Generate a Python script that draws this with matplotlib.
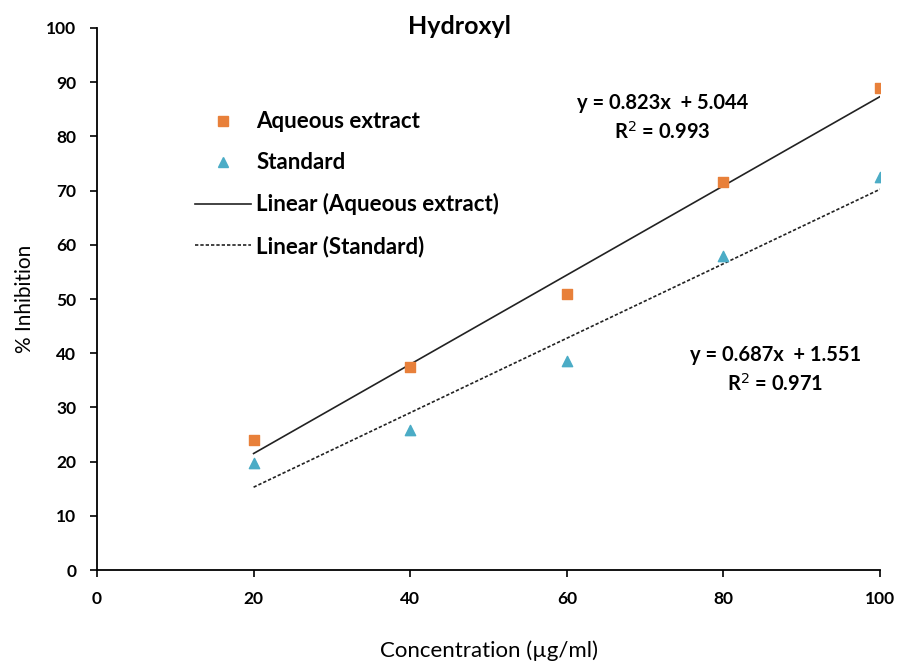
import matplotlib
matplotlib.use('Agg')
import matplotlib.pyplot as plt
from matplotlib.lines import Line2D

plt.rcParams['font.family'] = ['Lato', 'DejaVu Sans']

conc = [20, 40, 60, 80, 100]
aqueous = [24.0, 37.5, 51.0, 71.5, 89.0]
standard = [19.8, 25.8, 38.5, 58.0, 72.5]

fit_aq = (0.823, 5.044, 0.993)
fit_std = (0.687, 1.551, 0.971)

orange = '#E8803A'
blue = '#4BACC6'

fig = plt.figure(figsize=(8.98, 6.66), dpi=100)
ax = fig.add_axes([0.108, 0.144, 0.872, 0.814])

ax.scatter(conc, aqueous, marker='s', s=55, color=orange, zorder=3)
ax.scatter(conc, standard, marker='^', s=55, color=blue, zorder=3)

# trend lines from the printed fit coefficients
x0, x1 = conc[0], conc[-1]
ax.plot([x0, x1], [fit_aq[0] * x0 + fit_aq[1], fit_aq[0] * x1 + fit_aq[1]],
        color='#222222', lw=1.2, zorder=2)
ax.plot([x0, x1], [fit_std[0] * x0 + fit_std[1], fit_std[0] * x1 + fit_std[1]],
        color='#222222', lw=1.2, ls=(0, (2, 1.2)), zorder=2)

ax.set_xlim(0, 100)
ax.set_ylim(0, 100)
ax.set_xticks(range(0, 101, 20))
ax.set_yticks(range(0, 101, 10))
for s in ['top', 'right']:
    ax.spines[s].set_visible(False)
for s in ['left', 'bottom']:
    ax.spines[s].set_linewidth(1.3)
ax.tick_params(direction='out', length=5, width=1.2, labelsize=12.5, pad=10)
for lab in ax.get_xticklabels() + ax.get_yticklabels():
    lab.set_fontweight('bold')

ax.set_xlabel('Concentration (µg/ml)', fontsize=16, labelpad=24)
ax.set_ylabel('% Inhibition', fontsize=15, labelpad=8)
fig.text(460 / 898, 1 - 27 / 666, 'Hydroxyl', ha='center', va='center',
         fontsize=18, fontweight='bold')

ax.text(72.2, 88.0, f'y = {fit_aq[0]:.3f}x  + {fit_aq[1]:.3f}\nR$^2$ = {fit_aq[2]:.3f}',
        ha='center', va='top', fontsize=14.5, fontweight='bold', linespacing=1.45)
ax.text(86.6, 41.5, f'y = {fit_std[0]:.3f}x  + {fit_std[1]:.3f}\nR$^2$ = {fit_std[2]:.3f}',
        ha='center', va='top', fontsize=14.5, fontweight='bold', linespacing=1.45)

handles = [
    Line2D([], [], marker='s', ls='none', color=orange, markersize=7),
    Line2D([], [], marker='^', ls='none', color=blue, markersize=7),
    Line2D([], [], color='#222222', lw=1.2),
    Line2D([], [], color='#222222', lw=1.2, ls=(0, (2, 1.2))),
]
labels = ['Aqueous extract', 'Standard', 'Linear (Aqueous extract)', 'Linear (Standard)']
leg = ax.legend(handles, labels, loc='upper left', bbox_to_anchor=(0.1, 0.883),
                frameon=False, handlelength=2.5, handletextpad=0.25,
                labelspacing=0.9, prop={'weight': 'bold', 'size': 16})

fig.savefig('out.png', dpi=100)
